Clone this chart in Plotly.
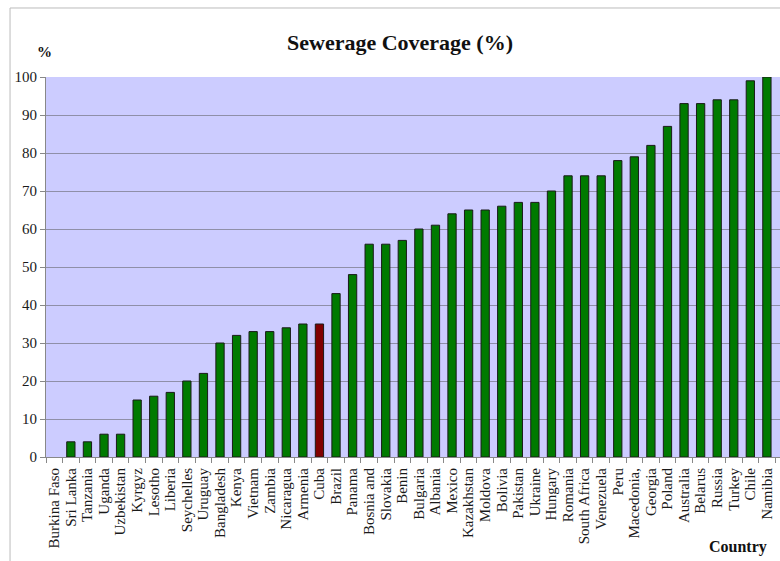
import plotly.graph_objects as go

countries = ["Burkina Faso", "Sri Lanka", "Tanzania", "Uganda", "Uzbekistan", "Kyrgyz",
             "Lesotho", "Liberia", "Seychelles", "Uruguay", "Bangladesh", "Kenya",
             "Vietnam", "Zambia", "Nicaragua", "Armenia", "Cuba", "Brazil", "Panama",
             "Bosnia and", "Slovakia", "Benin", "Bulgaria", "Albania", "Mexico",
             "Kazakhstan", "Moldova", "Bolivia", "Pakistan", "Ukraine", "Hungary",
             "Romania", "South Africa", "Venezuela", "Peru", "Macedonia,", "Georgia",
             "Poland", "Australia", "Belarus", "Russia", "Turkey", "Chile", "Namibia"]
coverage = [None, 4, 4, 6, 6, 15, 16, 17, 20, 22, 30, 32, 33, 33, 34, 35, 35, 43, 48,
            56, 56, 57, 60, 61, 64, 65, 65, 66, 67, 67, 70, 74, 74, 74, 78, 79, 82,
            87, 93, 93, 94, 94, 99, 100]
highlight = "Cuba"
y_ticks = list(range(0, 101, 10))

colors = ["#800000" if c == highlight else "#007a00" for c in countries]

fig = go.Figure(go.Bar(
    x=countries, y=coverage, marker_color=colors,
    marker_line_color="#1a1a1a", marker_line_width=1, width=0.5,
))

serif = "Liberation Serif, Times New Roman, serif"
fig.update_layout(
    width=780, height=561,
    margin=dict(l=46, r=0, t=77, b=104),
    paper_bgcolor="white", plot_bgcolor="#ccccff",
    font=dict(family=serif, color="#222", size=13),
    showlegend=False,
    bargap=0.5,
)
fig.update_xaxes(
    type="category", range=[-0.5, 43.79], tickangle=-90,
    tickmode="array", tickvals=countries, ticktext=countries,
    tickson="boundaries", ticks="outside", ticklen=5, tickcolor="#888",
    showline=True, linecolor="#888", linewidth=1, showgrid=False,
    ticklabelstandoff=4,
    tickfont=dict(family=serif, size=15, color="#1a1a1a"),
)
fig.update_yaxes(
    range=[0, 100], tickvals=y_ticks, ticks="outside", ticklen=5, tickcolor="#888",
    showline=True, linecolor="#888", linewidth=1,
    showgrid=True, gridcolor="#8f8fa8", gridwidth=1, zeroline=False,
    tickfont=dict(family=serif, size=15, color="#1a1a1a"),
)
# outer chart border (cropped on right)
fig.add_shape(type="rect", xref="paper", yref="paper",
              x0=-0.049, x1=1.2, y0=-0.4, y1=1.1816,
              line=dict(color="#bbbbbb", width=1), fillcolor="rgba(0,0,0,0)", layer="below")
fig.add_annotation(text="<b>Sewerage Coverage (%)</b>", xref="paper", yref="paper",
                   x=(400 - 46) / 734, y=(457 - 42) / 380, showarrow=False,
                   xanchor="center", yanchor="middle",
                   font=dict(family=serif, size=22, color="#111"))
fig.add_annotation(text="<b>%</b>", xref="paper", yref="paper",
                   x=(44 - 46) / 734, y=(457 - 52) / 380, showarrow=False,
                   xanchor="center", yanchor="middle",
                   font=dict(family=serif, size=15, color="#111"))
fig.add_annotation(text="<b>Country</b>", xref="paper", yref="paper",
                   x=(738 - 46) / 734, y=(457 - 547) / 380, showarrow=False,
                   xanchor="center", yanchor="middle",
                   font=dict(family=serif, size=16, color="#111"))

fig.write_html("out.html")
